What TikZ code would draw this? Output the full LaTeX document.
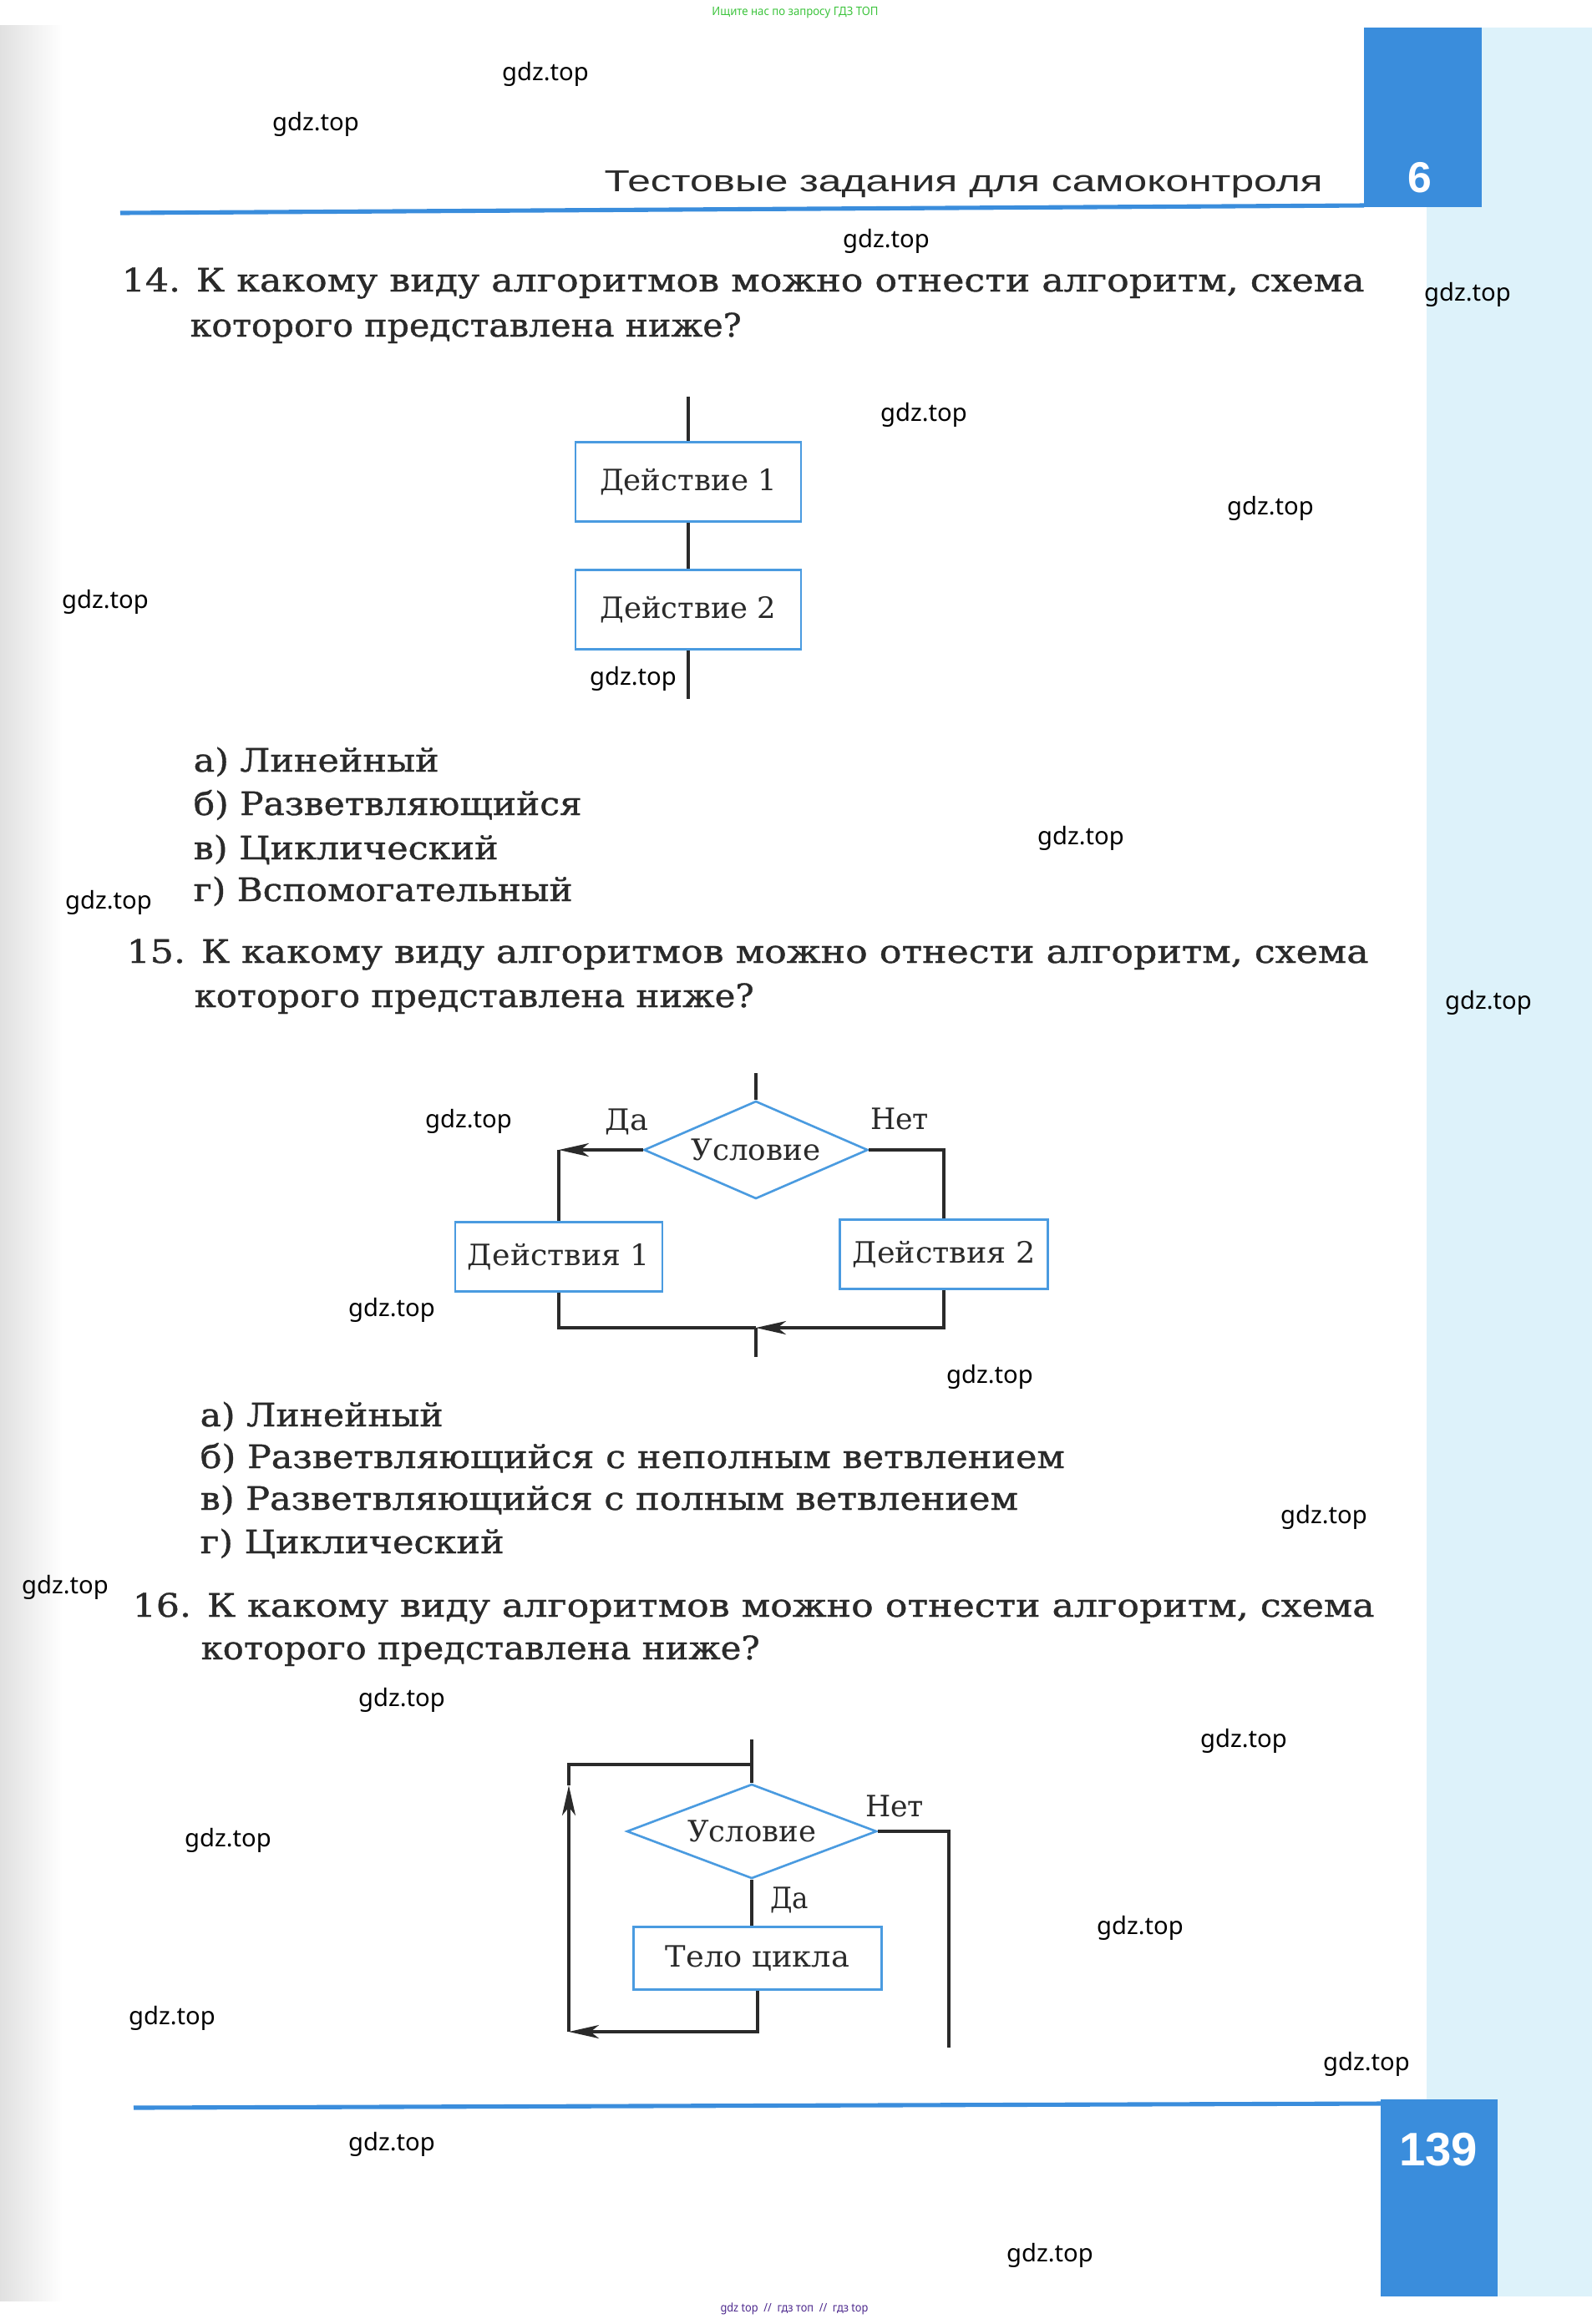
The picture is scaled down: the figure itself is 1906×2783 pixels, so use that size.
\documentclass[tikz,border=0pt]{standalone}
\usepackage{fontspec}
\usepackage{graphicx}
\usetikzlibrary{shapes.geometric,arrows.meta}
\newfontfamily\sch{DejaVu Serif}
\newfontfamily\schb[FakeBold=0.9]{DejaVu Serif}
\newfontfamily\hdr{Liberation Sans}
\newfontfamily\wmk{Noto Sans}
\definecolor{ink}{HTML}{2A2A2A}
\definecolor{bdark}{HTML}{3A8DDC}
\definecolor{blight}{HTML}{DDF2FA}
\definecolor{bframe}{HTML}{4A9BE0}
\definecolor{wgreen}{HTML}{3DC43D}
\definecolor{wpurple}{HTML}{4E2A8E}
\newcommand\fw[2]{\resizebox{\dimexpr0.01cm*#1\relax}{\height}{#2}}
\begin{document}
\begin{tikzpicture}[x=0.01cm,y=-0.01cm,
  q/.style={inner sep=0, anchor=base west, text=ink, font=\schb\fontsize{11}{13}\selectfont},
  fc/.style={inner sep=0, anchor=base, text=ink, font=\sch\fontsize{10}{12}\selectfont},
  box/.style={draw=bframe, line width=0.75pt, fill=white, inner sep=0, text=ink, font=\sch\fontsize{10}{12}\selectfont},
  dia/.style={shape=diamond, draw=bframe, line width=0.75pt, fill=white, inner sep=0, text=ink, font=\sch\fontsize{10}{12}\selectfont},
  conn/.style={draw=ink, line width=1pt},
  >={Stealth[length=3.6mm,width=1.6mm,inset=1mm]},
  wm/.style={inner sep=0, text=black, font=\wmk\fontsize{8.3}{10}\selectfont}]
\useasboundingbox (0,0) rectangle (1906,2783);
\fill[white] (0,0) rectangle (1906,2783);
% page gutter shading
\shade[left color=black!12, right color=white] (0,30) rectangle (75,2755);
% light blue strip
\fill[blight] (1708,33) rectangle (1906,2750);
% dark blue tabs
\fill[bdark] (1633,33) rectangle (1774,248);
\fill[bdark] (1653,2514) rectangle (1793,2750);
% rules
\draw[bdark, line width=1.45pt] (144,255) -- (1633,246);
\draw[bdark, line width=1.45pt] (160,2524) -- (1653,2519);
% header
\node[inner sep=0, anchor=base west, text=ink, font=\hdr\fontsize{10.3}{12}\selectfont] (hdr) at (723,229) {\fw{860}{Тестовые задания для самоконтроля}};
\node[inner sep=0, anchor=base, text=white, font=\hdr\bfseries\fontsize{14.7}{16}\selectfont] (ch) at (1700,230) {6};
\node[inner sep=0, anchor=base, text=white, font=\hdr\bfseries\fontsize{16}{18}\selectfont] (pg) at (1722,2593) {139};
% top / bottom small texts
\node[inner sep=0, anchor=center, text=wgreen, font=\wmk\fontsize{4}{5}\selectfont] (topad) at (952,15) {\fw{199}{Ищите нас по запросу ГДЗ ТОП}};
\node[inner sep=0, anchor=center, text=wpurple, font=\wmk\fontsize{4}{5}\selectfont] (botad) at (951,2765) {\fw{177}{gdz top\ \ //\ \ гдз топ\ \ //\ \ гдз top}};

% ---------------- Question 14
\node[q] (q14a) at (145,349) {\fw{1488}{14. К какому виду алгоритмов можно отнести алгоритм, схема}};
\node[q] (q14b) at (227,403) {\fw{660}{которого представлена ниже?}};
\coordinate (t14) at (824,475);
\node[box, minimum width=2.70cm, minimum height=0.95cm] (b141) at (824,577) {\fw{212}{Действие 1}};
\node[box, minimum width=2.70cm, minimum height=0.95cm] (b142) at (824,730) {\fw{211}{Действие 2}};
\coordinate (e14) at (824,837);
\draw[conn] (t14) -- (b141.north);
\draw[conn] (b141.south) -- (b142.north);
\draw[conn] (b142.south) -- (e14);
\node[q] (a14a) at (231,924) {\fw{294}{а) Линейный}};
\node[q] (a14b) at (231,976) {\fw{465}{б) Разветвляющийся}};
\node[q] (a14c) at (231,1029) {\fw{365}{в) Циклический}};
\node[q] (a14d) at (231,1079) {\fw{454}{г) Вспомогательный}};

% ---------------- Question 15
\node[q] (q15a) at (151,1153) {\fw{1487}{15. К какому виду алгоритмов можно отнести алгоритм, схема}};
\node[q] (q15b) at (232,1206) {\fw{670}{которого представлена ниже?}};
\coordinate (t15) at (905,1285);
\node[dia, minimum width=2.68cm, minimum height=1.17cm, aspect=2.29] (d15) at (905,1377) {\fw{155}{Условие}};
\node[box, minimum width=2.48cm, minimum height=0.83cm] (b151) at (669,1505) {\fw{218}{Действия 1}};
\node[box, minimum width=2.49cm, minimum height=0.83cm] (b152) at (1130,1502) {\fw{219}{Действия 2}};
\coordinate (c15l) at (669,1377);
\coordinate (c15r) at (1130,1377);
\coordinate (c15bl) at (669,1590);
\coordinate (c15br) at (1130,1590);
\coordinate (j15) at (905,1590);
\coordinate (e15) at (905,1625);
\node[fc] (da15) at (750,1353) {\fw{52}{Да}};
\node[fc] (net15) at (1077,1352) {\fw{70}{Нет}};
\draw[conn] (t15) -- (d15.north);
\draw[conn,->] (d15.west) -- (c15l);
\draw[conn] (c15l) -- (b151.north);
\draw[conn] (d15.east) -- (c15r) -- (b152.north);
\draw[conn] (b151.south) -- (c15bl) -- (j15);
\draw[conn,->] (b152.south) -- (c15br) -- (j15);
\draw[conn] (j15) -- (e15);
\node[q] (a15a) at (239,1708) {\fw{291}{а) Линейный}};
\node[q] (a15b) at (239,1758) {\fw{1035}{б) Разветвляющийся с неполным ветвлением}};
\node[q] (a15c) at (239,1808) {\fw{979}{в) Разветвляющийся с полным ветвлением}};
\node[q] (a15d) at (239,1860) {\fw{364}{г) Циклический}};

% ---------------- Question 16
\node[q] (q16a) at (158,1936) {\fw{1487}{16. К какому виду алгоритмов можно отнести алгоритм, схема}};
\node[q] (q16b) at (240,1987) {\fw{669}{которого представлена ниже?}};
\coordinate (t16) at (900,2083);
\coordinate (j16) at (900,2113);
\node[dia, minimum width=2.99cm, minimum height=1.13cm, aspect=2.65] (d16) at (900,2193) {\fw{154}{Условие}};
\node[box, minimum width=2.97cm, minimum height=0.75cm] (b16) at (907,2345) {\fw{220}{Тело цикла}};
\coordinate (c16b) at (907,2433);
\coordinate (c16bl) at (681,2433);
\coordinate (a16) at (681,2138);
\coordinate (c16tl) at (681,2113);
\coordinate (c16r) at (1136,2193);
\coordinate (e16) at (1136,2452);
\node[fc] (net16) at (1071,2175) {\fw{70}{Нет}};
\node[fc] (da16) at (945,2285) {\fw{46}{Да}};
\draw[conn] (t16) -- (d16.north);
\draw[conn] (d16.south) -- (d16.south |- b16.north);
\draw[conn,->] (b16.south) -- (c16b) -- (c16bl);
\draw[conn,->] (c16bl) -- (a16);
\draw[conn] (a16) -- (c16tl) -- (j16);
\draw[conn] (d16.east) -- (c16r) -- (e16);

% ---------------- watermarks
\node[wm] (w1) at (653,89) {gdz.top};
\node[wm] (w2) at (378,149) {gdz.top};
\node[wm] (w3) at (1061,289) {gdz.top};
\node[wm] (w4) at (1757,353) {gdz.top};
\node[wm] (w5) at (1106,497) {gdz.top};
\node[wm] (w6) at (1521,609) {gdz.top};
\node[wm] (w7) at (126,721) {gdz.top};
\node[wm] (w8) at (758,813) {gdz.top};
\node[wm] (w9) at (1294,1004) {gdz.top};
\node[wm] (w10) at (130,1081) {gdz.top};
\node[wm] (w11) at (1782,1201) {gdz.top};
\node[wm] (w12) at (561,1343) {gdz.top};
\node[wm] (w13) at (469,1569) {gdz.top};
\node[wm] (w14) at (1185,1649) {gdz.top};
\node[wm] (w15) at (1585,1817) {gdz.top};
\node[wm] (w16) at (78,1901) {gdz.top};
\node[wm] (w17) at (481,2036) {gdz.top};
\node[wm] (w18) at (1489,2085) {gdz.top};
\node[wm] (w19) at (273,2204) {gdz.top};
\node[wm] (w20) at (1365,2309) {gdz.top};
\node[wm] (w21) at (206,2417) {gdz.top};
\node[wm] (w22) at (1636,2472) {gdz.top};
\node[wm] (w23) at (469,2568) {gdz.top};
\node[wm] (w24) at (1257,2701) {gdz.top};
\end{tikzpicture}
\end{document}
